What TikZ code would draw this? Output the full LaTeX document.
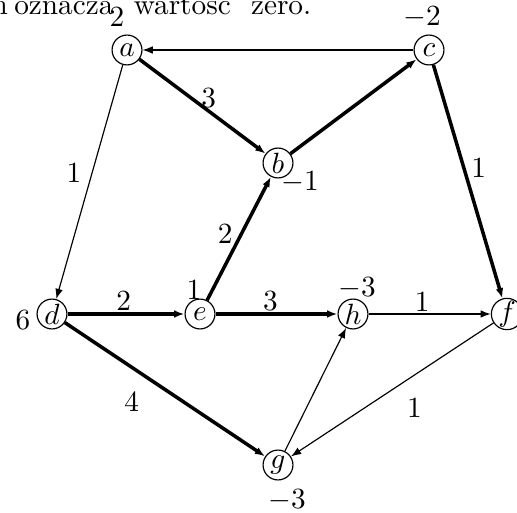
\documentclass[tikz,border=0pt]{standalone}
\usepackage{tikz}
\usetikzlibrary{arrows.meta}

\begin{document}
\begin{tikzpicture}[
  x=0.12mm,y=-0.12mm,
  vertex/.style={draw,circle,inner sep=0pt,minimum size=10.2pt},
  weight/.style={inner sep=0.5pt},
  arc/.style={-{Latex[length=3.5pt,width=2.6pt]},line width=0.4pt},
  tree/.style={arc,line width=1.2pt}
]
  \useasboundingbox (0,0) rectangle (517,512);
  \clip (0,0) rectangle (517,512);
  \node[anchor=base west,inner sep=0pt] (note) at (-9,15)
    {n\hspace{2.2pt}oznacza\hspace{6.9pt}wartosc\hspace{6.9pt}zero.};

  \node[vertex] (a) at (127,50) {$a$};
  \node[vertex] (b) at (278,163) {$b$};
  \node[vertex] (c) at (429,50) {$c$};
  \node[vertex] (d) at (52,314) {$d$};
  \node[vertex] (e) at (200,314) {$e$};
  \node[vertex] (h) at (353,314) {$h$};
  \node[vertex] (f) at (507,314) {$f$};
  \node[vertex] (g) at (278,465) {$g$};

  % potentials
  \node (pa) at (117,17) {$2$};
  \node (pc) at (422,17) {$-2$};
  \node (pb) at (300,182) {$-1$};
  \node (pd) at (23,320) {$6$};
  \node (pe) at (194,290) {$1$};
  \node (ph) at (357,288) {$-3$};
  \node (pg) at (287,500) {$-3$};

  % arcs
  \draw[arc] (c) -- (a);
  \draw[arc] (a) -- node[weight,pos=.46,left=3pt] {1} (d);
  \draw[arc] (h) -- node[weight,pos=.44,above=0pt] {1} (f);
  \draw[arc] (g) -- (h);
  \draw[arc] (f) -- node[weight,pos=.48,below right=3pt] {1} (g);
  % spanning tree
  \draw[tree] (a) -- node[weight,pos=.55,above=0pt] {3} (b);
  \draw[tree] (b) -- (c);
  \draw[tree] (c) -- node[weight,pos=.44,right=1.5pt] {1} (f);
  \draw[tree] (e) -- node[weight,pos=.54,left=2pt] {2} (b);
  \draw[tree] (d) -- node[weight,pos=.48,above=0pt] {2} (e);
  \draw[tree] (e) -- node[weight,pos=.45,above=0pt] {3} (h);
  \draw[tree] (d) -- node[weight,pos=.43,below left=3pt] {4} (g);
\end{tikzpicture}
\end{document}
